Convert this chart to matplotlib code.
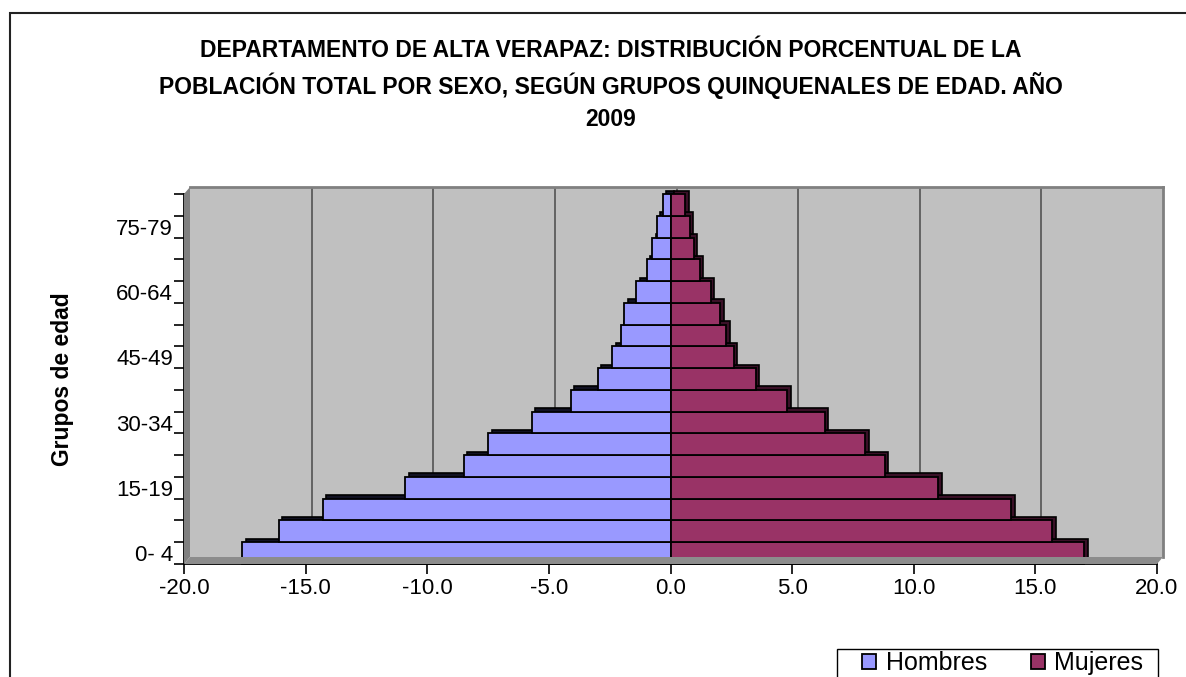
import matplotlib
matplotlib.use("Agg")
import matplotlib.pyplot as plt
from matplotlib.patches import Rectangle, Polygon
from matplotlib.transforms import ScaledTranslation
import numpy as np

plt.rcParams['font.family'] = ['Liberation Sans', 'DejaVu Sans']

# ---- data ----
age_groups = ["0- 4", "5- 9", "10-14", "15-19", "20-24", "25-29", "30-34", "35-39",
              "40-44", "45-49", "50-54", "55-59", "60-64", "65-69", "70-74", "75-79", "80+"]
hombres = [-17.6, -16.1, -14.3, -10.9, -8.5, -7.5, -5.7, -4.1,
           -3.0, -2.4, -2.05, -1.9, -1.4, -0.97, -0.74, -0.56, -0.31]
mujeres = [17.0, 15.7, 14.0, 11.0, 8.8, 8.0, 6.35, 4.8,
           3.5, 2.6, 2.3, 2.05, 1.65, 1.2, 0.95, 0.8, 0.6]
x_ticks = [-20, -15, -10, -5, 0, 5, 10, 15, 20]
label_every = 3
title = ("DEPARTAMENTO DE ALTA VERAPAZ: DISTRIBUCIÓN PORCENTUAL DE LA\n"
         "POBLACIÓN TOTAL POR SEXO, SEGÚN GRUPOS QUINQUENALES DE EDAD. AÑO\n"
         "2009")

W, H = 1186, 677
fig = plt.figure(figsize=(W / 100, H / 100), dpi=100)
fig.patch.set_facecolor('white')

def fx(px):
    return px / W

def fy(py):
    return 1 - py / H

# front plane pixels
L, R, B, T = 184, 1157, 564, 194
DX, DY = 6, 7  # depth offset (right, up)

# figure border
fig.add_artist(Rectangle((fx(10), fy(H + 20)), fx(W + 20), fy(13) - fy(H + 20),
                         transform=fig.transFigure, fill=False, edgecolor='#222222',
                         linewidth=1.5, zorder=0))

# back wall axes
axb = fig.add_axes([fx(L + DX), fy(B - DY), fx(R - L), fy(T - DY) - fy(B - DY)])
axb.set_facecolor('#C0C0C0')
axb.set_xlim(x_ticks[0], x_ticks[-1])
axb.set_ylim(0, 1)
for xv in x_ticks[1:-1]:
    axb.axvline(xv, color='#4a4a4a', linewidth=1.1)
axb.set_xticks([])
axb.set_yticks([])
for s in ['left', 'bottom']:
    axb.spines[s].set_visible(False)
for s in ['top', 'right']:
    axb.spines[s].set_color('#808080')
    axb.spines[s].set_linewidth(2)

# left wall and floor
fig.add_artist(Polygon([(fx(L), fy(B)), (fx(L + DX), fy(B - DY)), (fx(L + DX), fy(T - DY)), (fx(L), fy(T))],
                       closed=True, transform=fig.transFigure, facecolor='#808080',
                       edgecolor='none', zorder=1))
fig.add_artist(Polygon([(fx(L), fy(B)), (fx(R), fy(B)), (fx(R + DX), fy(B - DY)), (fx(L + DX), fy(B - DY))],
                       closed=True, transform=fig.transFigure, facecolor='#8c8c8c',
                       edgecolor='none', zorder=1))

# front axes
ax = fig.add_axes([fx(L), fy(B), fx(R - L), fy(T) - fy(B)])
ax.set_facecolor('none')
ax.set_xlim(x_ticks[0], x_ticks[-1])
n = len(age_groups)
ypos = np.arange(n)
ax.set_ylim(-0.5, n - 0.5)

depth = ScaledTranslation(3.5 / 100, 3.5 / 100, fig.dpi_scale_trans)
tshadow = ax.transData + depth
ax.barh(ypos, hombres, height=1.0, color='#111122', edgecolor='black',
        linewidth=1.2, transform=tshadow, clip_on=False, zorder=2)
ax.barh(ypos, mujeres, height=1.0, color='#3a1027', edgecolor='black',
        linewidth=1.2, transform=tshadow, clip_on=False, zorder=2)
ax.barh(ypos, hombres, height=1.0, color='#9999FF', edgecolor='black',
        linewidth=1.3, clip_on=False, zorder=3, label='Hombres')
ax.barh(ypos, mujeres, height=1.0, color='#993366', edgecolor='black',
        linewidth=1.3, clip_on=False, zorder=3, label='Mujeres')

for s in ['top', 'right']:
    ax.spines[s].set_visible(False)
ax.spines['left'].set_linewidth(1.3)
ax.spines['bottom'].set_linewidth(1.3)
ax.spines['left'].set_zorder(5)

ax.set_xticks(x_ticks)
ax.set_xticklabels([f"{v:.1f}" for v in x_ticks], fontsize=16)
ax.tick_params(axis='x', length=7, width=1.2, pad=3)

ax.set_yticks(np.arange(-0.5, n, 1.0))
ax.set_yticklabels([])
ax.tick_params(axis='y', which='major', length=7, width=1.2)
ax.set_yticks(ypos[::label_every], minor=True)
ax.set_yticklabels(age_groups[::label_every], minor=True, fontsize=16)
ax.tick_params(axis='y', which='minor', length=0, pad=8)

fig.text(fx(63), fy(379), "Grupos de edad", rotation=90, fontsize=16.5,
         fontweight='bold', ha='center', va='center')

fig.text(fx(611), fy(39), title, fontsize=16.5, fontweight='bold', ha='center',
         va='top', linespacing=1.47)

# legend frame (clipped by figure bottom) and entries
fig.add_artist(Rectangle((fx(837), fy(H + 20)), fx(1158) - fx(837), fy(649) - fy(H + 20),
                         transform=fig.transFigure, facecolor='white', edgecolor='black',
                         linewidth=1.0, zorder=4))
handles, labels = ax.get_legend_handles_labels()
leg = fig.legend(handles, labels, ncol=2, loc='upper left',
                 bbox_to_anchor=(fx(862), fy(651)), frameon=False, fontsize=18,
                 handlelength=0.55, handleheight=0.55, handletextpad=0.4,
                 columnspacing=1.75, borderpad=0, borderaxespad=0)
leg.set_zorder(5)

fig.savefig("out.png", dpi=100)
